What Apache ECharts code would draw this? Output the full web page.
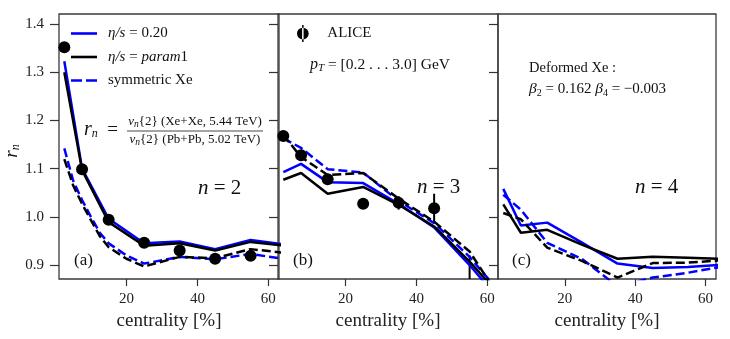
<!DOCTYPE html>
<html>
<head>
<meta charset="utf-8">
<script src="https://cdn.jsdelivr.net/npm/echarts@6/dist/echarts.min.js"></script>
<style>html,body{margin:0;padding:0;background:#fff;}#chart{width:730px;height:339px;}</style>
</head>
<body>
<div id="chart"></div>
<script>
// ---- data ----
const centrality = [2.5, 7.5, 15, 25, 35, 45, 55, 65];
const centralityFine = [2.5, 5, 7.5, 10, 12.5, 15, 20, 25, 35, 45, 55, 65];
const aliceCentrality = [2.5, 7.5, 15, 25, 35, 45, 55];
const xTicks = [20, 40, 60];
const yTicks = [0.9, 1.0, 1.1, 1.2, 1.3, 1.4];

// panel (a) n = 2
const blueSolidA = [1.323, 1.100, 0.996, 0.945, 0.949, 0.933, 0.952, 0.942];
const blackSolidA = [1.300, 1.097, 0.989, 0.940, 0.945, 0.930, 0.948, 0.940];
const blueDashA = [1.142, 1.075, 1.035, 1.000, 0.967, 0.945, 0.920, 0.903, 0.917, 0.912, 0.923, 0.912];
const blackDashA = [1.120, 1.065, 1.027, 0.993, 0.960, 0.937, 0.913, 0.897, 0.917, 0.914, 0.933, 0.925];
const aliceA = [1.352, 1.099, 0.994, 0.946, 0.930, 0.913, 0.919];
const aliceErrA = [0.005, 0.005, 0.005, 0.005, 0.006, 0.006, 0.008];

// panel (b) n = 3
const blueSolidB = [1.093, 1.110, 1.072, 1.070, 1.027, 0.978, 0.900, 0.813];
const blackSolidB = [1.077, 1.091, 1.048, 1.062, 1.025, 0.980, 0.907, 0.825];
const blueDashB = [1.163, 1.143, 1.099, 1.092, 1.033, 0.987, 0.917, 0.830];
const blackDashB = [1.170, 1.124, 1.087, 1.091, 1.038, 0.990, 0.928, 0.815];
const aliceB = [1.168, 1.128, 1.078, 1.027, 1.029, 1.018, 0.820];
const aliceErrB = [0.005, 0.005, 0.006, 0.007, 0.014, 0.030, 0.100];

// panel (c) n = 4
const blueSolidC = [1.058, 0.982, 0.988, 0.946, 0.903, 0.894, 0.896, 0.901];
const blackSolidC = [1.026, 0.967, 0.973, 0.942, 0.913, 0.917, 0.915, 0.913];
const blueDashC = [1.046, 1.015, 0.946, 0.912, 0.856, 0.874, 0.884, 0.897];
const blackDashC = [1.008, 0.995, 0.936, 0.908, 0.874, 0.904, 0.905, 0.910];

// ---- helpers ----
const FONT = 'Liberation Serif';
const BLUE = '#0000ff', BLACK = '#000000';
const zip = (xs, ys) => xs.map((x, i) => [x, ys[i]]);
const zip3 = (xs, ys, es) => xs.map((x, i) => [x, ys[i], es[i]]);

const grids = [
  {left: 59, top: 14, width: 220, height: 265},
  {left: 278, top: 14, width: 220, height: 265},
  {left: 498, top: 14, width: 218, height: 265}
].map(g => Object.assign(g, {show: true, borderColor: '#3a3a3a', borderWidth: 1.3, backgroundColor: 'transparent'}));

const xAxes = [0, 1, 2].map(i => ({
  type: 'value', gridIndex: i, min: 1, max: 63,
  splitLine: {show: false}, axisLine: {show: false},
  axisTick: {show: true, inside: false, length: 7, customValues: xTicks, lineStyle: {color: '#333', width: 1.2}},
  axisLabel: {show: true, customValues: xTicks, margin: 13, color: '#222', fontFamily: FONT, fontSize: 15},
  name: 'centrality [%]', nameLocation: 'middle', nameGap: 32,
  nameTextStyle: {fontFamily: FONT, fontSize: 19, color: '#222'}
}));

const yAxes = [0, 1, 2].map(i => ({
  type: 'value', gridIndex: i, min: 0.871, max: 1.421,
  splitLine: {show: false}, axisLine: {show: false},
  axisTick: {show: true, inside: false, length: 9, customValues: yTicks, lineStyle: {color: '#333', width: 1.2}},
  axisLabel: {show: i === 0, customValues: yTicks, margin: 15, color: '#222', fontFamily: FONT, fontSize: 15,
    formatter: v => v.toFixed(1)}
}));

function lineSeries(name, idx, xs, ys, color, dashed) {
  return {
    type: 'line', name: name, xAxisIndex: idx, yAxisIndex: idx,
    data: zip(xs, ys), symbol: 'none', showSymbol: false, clip: true, smooth: false,
    lineStyle: {color: color, width: 2.5, type: dashed ? [9, 4] : 'solid'},
    itemStyle: {color: color}, emphasis: {disabled: true}, silent: true
  };
}
function aliceSeries(idx, ys, es) {
  return [
    {
      type: 'custom', name: 'ALICE err', xAxisIndex: idx, yAxisIndex: idx, clip: true, silent: true,
      data: zip3(aliceCentrality, ys, es),
      renderItem: function (params, api) {
        const x = api.value(0), y = api.value(1), e = api.value(2);
        const p1 = api.coord([x, y + e]), p2 = api.coord([x, y - e]);
        return {type: 'line', shape: {x1: p1[0], y1: p1[1], x2: p2[0], y2: p2[1]},
          style: {stroke: BLACK, lineWidth: 2}};
      }
    },
    {
      type: 'scatter', name: 'ALICE', xAxisIndex: idx, yAxisIndex: idx, clip: true, silent: true,
      data: zip(aliceCentrality, ys), symbol: 'circle', symbolSize: 12,
      itemStyle: {color: BLACK, opacity: 1}, z: 5
    }
  ];
}

const series = [
  lineSeries('η/s = 0.20', 0, centrality, blueSolidA, BLUE, false),
  lineSeries('η/s = param1', 0, centrality, blackSolidA, BLACK, false),
  lineSeries('symmetric Xe', 0, centralityFine, blueDashA, BLUE, true),
  lineSeries('symmetric Xe (param1)', 0, centralityFine, blackDashA, BLACK, true),
  ...aliceSeries(0, aliceA, aliceErrA),
  lineSeries('η/s = 0.20', 1, centrality, blueSolidB, BLUE, false),
  lineSeries('η/s = param1', 1, centrality, blackSolidB, BLACK, false),
  lineSeries('symmetric Xe', 1, centrality, blueDashB, BLUE, true),
  lineSeries('symmetric Xe (param1)', 1, centrality, blackDashB, BLACK, true),
  ...aliceSeries(1, aliceB, aliceErrB),
  lineSeries('η/s = 0.20', 2, centrality, blueSolidC, BLUE, false),
  lineSeries('η/s = param1', 2, centrality, blackSolidC, BLACK, false),
  lineSeries('symmetric Xe', 2, centrality, blueDashC, BLUE, true),
  lineSeries('symmetric Xe (param1)', 2, centrality, blackDashC, BLACK, true)
];

const rich = {
  i: {fontFamily: FONT, fontStyle: 'italic', fontSize: 15, color: '#111'},
  r: {fontFamily: FONT, fontSize: 15, color: '#111'}
};
const legendLabels = {
  'η/s = 0.20': '{i|η/s} {r|= 0.20}',
  'η/s = param1': '{i|η/s} {r|=} {i|param}{r|1}',
  'symmetric Xe': '{r|symmetric Xe}'
};
const SOLID_ICON = 'path://M0,0H26V2.6H0Z';
const DASH_ICON = 'path://M0,0H11V2.6H0Z M15,0H26V2.6H15Z';

function t(x, y, text, size, extra) {
  return {
    type: 'text', x: x, y: y, silent: true,
    style: Object.assign({text: text, fontFamily: FONT, fontSize: size, fill: '#111',
      textAlign: 'left', textVerticalAlign: 'middle'}, extra || {})
  };
}
const sub = (size) => ({fontFamily: FONT, fontSize: size, color: '#111', verticalAlign: 'bottom', lineHeight: size});
const fracRich = {
  i: {fontFamily: FONT, fontStyle: 'italic', fontSize: 13, lineHeight: 14},
  s: Object.assign(sub(9.5), {fontStyle: 'italic'})
};

const graphics = [
  // y axis label r_n
  Object.assign(t(12, 151, '{i|r}{s|n}', 18, {
    textAlign: 'center',
    rich: {i: {fontFamily: FONT, fontStyle: 'italic', fontSize: 19, lineHeight: 20}, s: Object.assign(sub(12), {fontStyle: 'italic'})}
  }), {rotation: Math.PI / 2}),
  // formula
  t(84, 130, '{i|r}{s|n}{e|  =}', 18, {
    rich: {i: {fontFamily: FONT, fontStyle: 'italic', fontSize: 20, lineHeight: 20}, s: Object.assign(sub(12), {fontStyle: 'italic'}), e: {fontFamily: FONT, fontSize: 19, lineHeight: 20}}
  }),
  t(195, 122, '{i|v}{s|n}{2} (Xe+Xe, 5.44 TeV)', 13, {textAlign: 'center', lineHeight: 14, rich: fracRich}),
  t(195, 140, '{i|v}{s|n}{2} (Pb+Pb, 5.02 TeV)', 13, {textAlign: 'center', lineHeight: 14, rich: fracRich}),
  {type: 'line', silent: true, shape: {x1: 127, y1: 131, x2: 263, y2: 131}, style: {stroke: '#333', lineWidth: 0.9}},
  // n = ...
  t(198, 188, '{i|n} = 2', 21, {rich: {i: {fontFamily: FONT, fontStyle: 'italic', fontSize: 21}}}),
  t(417, 187, '{i|n} = 3', 21, {rich: {i: {fontFamily: FONT, fontStyle: 'italic', fontSize: 21}}}),
  t(635, 187, '{i|n} = 4', 21, {rich: {i: {fontFamily: FONT, fontStyle: 'italic', fontSize: 21}}}),
  // panel labels
  t(74, 261, '(a)', 17),
  t(293, 261, '(b)', 17),
  t(512, 261, '(c)', 17),
  // pT range
  t(310, 65, '{i|p}{s|T} = [0.2 . . . 3.0] GeV', 15.5, {
    rich: {i: {fontFamily: FONT, fontStyle: 'italic', fontSize: 16, lineHeight: 18}, s: Object.assign(sub(11), {fontStyle: 'italic'})}
  }),
  // deformation
  t(529, 68, 'Deformed Xe :', 14.5),
  t(529, 89, '{i|β}{s|2} = 0.162 {i|β}{s|4} = −0.003', 15, {
    rich: {i: {fontFamily: FONT, fontStyle: 'italic', fontSize: 15.5, lineHeight: 18}, s: sub(10)}
  })
];

const option = {
  animation: false,
  backgroundColor: '#ffffff',
  grid: grids,
  xAxis: xAxes,
  yAxis: yAxes,
  legend: [
    {
      data: [
        {name: 'η/s = 0.20', icon: SOLID_ICON},
        {name: 'η/s = param1', icon: SOLID_ICON},
        {name: 'symmetric Xe', icon: DASH_ICON}
      ],
      orient: 'vertical', left: 71, top: 26, itemWidth: 26, itemHeight: 14, itemGap: 8.5,
      symbolKeepAspect: true, selectedMode: false, padding: 0,
      formatter: name => legendLabels[name],
      textStyle: {fontFamily: FONT, fontSize: 15, color: '#111', padding: [0, 0, 0, 6], rich: rich}
    },
    {
      data: [{name: 'ALICE', icon: 'path://M5.3,0H6.7V16H5.3Z M0.5,8A5.5,5.5 0 1,0 11.5,8A5.5,5.5 0 1,0 0.5,8Z'}],
      orient: 'vertical', left: 297, top: 25, itemWidth: 13, itemHeight: 17,
      symbolKeepAspect: true, selectedMode: false, padding: 0,
      textStyle: {fontFamily: FONT, fontSize: 15, color: '#111', padding: [0, 0, 0, 13]}
    }
  ],
  graphic: graphics,
  series: series
};

const chart = echarts.init(document.getElementById('chart'), null, {renderer: 'canvas'});
chart.setOption(option);
</script>
</body>
</html>
